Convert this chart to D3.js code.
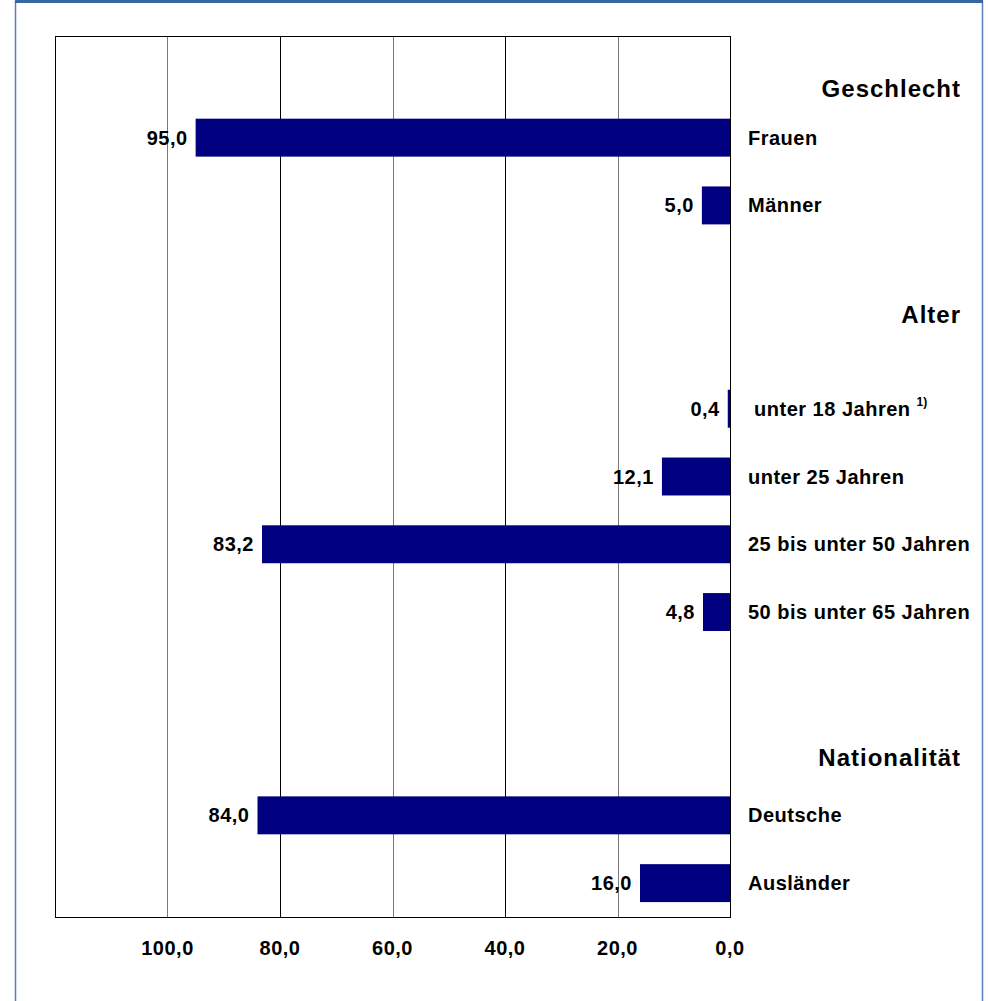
<!DOCTYPE html>
<html>
<head>
<meta charset="utf-8">
<script src="https://cdn.jsdelivr.net/npm/d3@7"></script>
<style>
  html, body { margin: 0; padding: 0; background: #fff; }
  svg { display: block; font-family: "Liberation Sans", Arial, sans-serif; }
</style>
</head>
<body>
<svg id="chart" width="988" height="1001"></svg>
<script>
// ---- data ----
const groups = ["Geschlecht", "Alter", "Nationalität"];
const categories = ["Frauen", "Männer", " unter 18 Jahren", "unter 25 Jahren", "25 bis unter 50 Jahren", "50 bis unter 65 Jahren", "Deutsche", "Ausländer"];
const categoryGroup = ["Geschlecht", "Geschlecht", "Alter", "Alter", "Alter", "Alter", "Nationalität", "Nationalität"];
const values = [95.0, 5.0, 0.4, 12.1, 83.2, 4.8, 84.0, 16.0];
const footnotes = ["", "", "1)", "", "", "", "", ""];
const tickValues = [100, 80, 60, 40, 20, 0];

// ---- layout ----
const svg = d3.select("#chart");
const plot = { left: 55, right: 730, top: 36, bottom: 917 };
const fmt = v => d3.format(".1f")(v).replace(".", ",");

// slots: a header slot before each group, plus a spacer before later groups
const slots = [];
groups.forEach((g, gi) => {
  if (gi > 0) slots.push("gap-" + g);
  slots.push("head-" + g);
  categories.forEach((c, i) => { if (categoryGroup[i] === g) slots.push(c); });
});

const x = d3.scaleLinear().domain([120, 0]).range([plot.left, plot.right]);
const y = d3.scaleBand().domain(slots).range([plot.top, plot.bottom])
  .paddingInner(0.44).paddingOuter(0.22);

// outer frame
svg.append("rect").attr("x", 15.5).attr("y", 1.5).attr("width", 967).attr("height", 1010)
  .attr("fill", "#fff").attr("stroke", "#5b82b8").attr("stroke-width", 1.5);
svg.append("line").attr("x1", 15).attr("x2", 983).attr("y1", 1.5).attr("y2", 1.5)
  .attr("stroke", "#36689f").attr("stroke-width", 3);

// gridlines
const gridVals = d3.range(0, 121, 20);
svg.append("g").selectAll("line").data(gridVals).join("line")
  .attr("x1", d => Math.round(x(d)) + 0.5).attr("x2", d => Math.round(x(d)) + 0.5)
  .attr("y1", plot.top).attr("y2", plot.bottom)
  .attr("stroke", d => (d === 0 || d === 120 || d % 40 === 0) ? "#000" : "#7a7a7a")
  .attr("stroke-width", 1);

// plot border
svg.append("rect")
  .attr("x", plot.left + 0.5).attr("y", plot.top + 0.5)
  .attr("width", Math.round(x(0)) - plot.left).attr("height", plot.bottom - plot.top)
  .attr("fill", "none").attr("stroke", "#000").attr("stroke-width", 1);

// bars
svg.append("g").selectAll("rect").data(categories).join("rect")
  .attr("x", (d, i) => x(values[i]))
  .attr("y", d => y(d))
  .attr("width", (d, i) => x(0) - x(values[i]))
  .attr("height", y.bandwidth())
  .attr("fill", "#000080");

// zero axis line above bars
svg.append("line").attr("x1", Math.round(x(0)) + 0.5).attr("x2", Math.round(x(0)) + 0.5)
  .attr("y1", plot.top).attr("y2", plot.bottom).attr("stroke", "#000");

const labelFont = { size: 20, spacing: 0.5 };

// value labels
svg.append("g").selectAll("text").data(categories).join("text")
  .attr("x", (d, i) => x(values[i]) - 8)
  .attr("y", d => y(d) + y.bandwidth() / 2)
  .attr("dy", "0.35em")
  .attr("text-anchor", "end")
  .attr("font-size", labelFont.size).attr("font-weight", "bold").attr("fill", "#000")
  .attr("letter-spacing", labelFont.spacing)
  .text((d, i) => fmt(values[i]));

// category labels
const cl = svg.append("g").selectAll("text").data(categories).join("text")
  .attr("x", x(0) + 18)
  .attr("y", d => y(d) + y.bandwidth() / 2)
  .attr("dy", "0.35em")
  .attr("font-size", labelFont.size).attr("font-weight", "bold").attr("fill", "#000")
  .attr("letter-spacing", labelFont.spacing)
  .attr("xml:space", "preserve")
  .style("white-space", "pre");
cl.append("tspan").text(d => d);
cl.filter((d, i) => footnotes[i] !== "").append("tspan")
  .attr("font-size", 12).attr("dy", "-0.8em").attr("dx", 6)
  .attr("letter-spacing", 0)
  .text(d => footnotes[categories.indexOf(d)]);

// group headers (offset within their slot)
const headerShift = { "Geschlecht": 19, "Alter": -26, "Nationalität": 10 };
svg.append("g").selectAll("text").data(groups).join("text")
  .attr("x", 961)
  .attr("y", g => y("head-" + g) + y.bandwidth() / 2 + headerShift[g])
  .attr("dy", "0.35em")
  .attr("text-anchor", "end")
  .attr("font-size", 24).attr("font-weight", "bold").attr("fill", "#000")
  .attr("letter-spacing", 1)
  .text(g => g);

// x tick labels
svg.append("g").selectAll("text").data(tickValues).join("text")
  .attr("x", d => x(d))
  .attr("y", 948)
  .attr("dy", "0.35em")
  .attr("text-anchor", "middle")
  .attr("font-size", labelFont.size).attr("font-weight", "bold").attr("fill", "#000")
  .attr("letter-spacing", labelFont.spacing)
  .text(d => fmt(d));
</script>
</body>
</html>
